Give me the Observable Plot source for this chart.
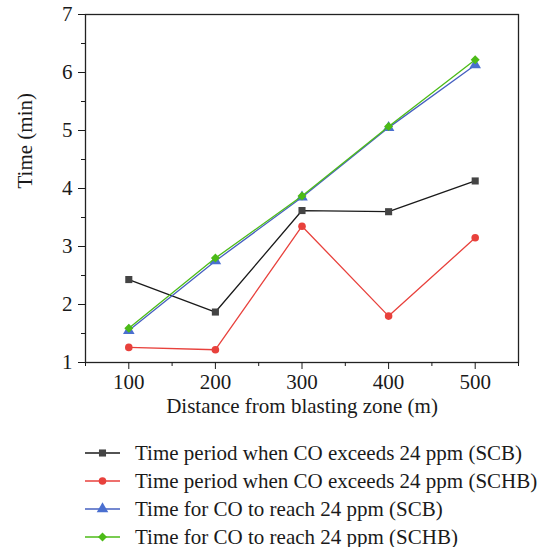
<!DOCTYPE html>
<html><head><meta charset="utf-8">
<script src="https://cdn.jsdelivr.net/npm/d3@7"></script>
<script src="https://cdn.jsdelivr.net/npm/@observablehq/plot@0.6"></script>
<style>
body{margin:0;background:#fff;font-family:"Liberation Serif",serif;}
#legend{margin-top:9px;margin-left:85px;}
.row{display:flex;align-items:center;height:28px;font-size:21px;color:#1a1a1a;}
.row svg{margin-right:15px;}
</style>
</head><body><div id="chart"></div><div id="legend"></div>
<script>
const distances = [100, 200, 300, 400, 500];
const seriesNames = [
  "Time period when CO exceeds 24 ppm (SCB)",
  "Time period when CO exceeds 24 ppm (SCHB)",
  "Time for CO to reach 24 ppm (SCB)",
  "Time for CO to reach 24 ppm (SCHB)"
];
const exceedSCB  = [2.43, 1.87, 3.62, 3.60, 4.13];
const exceedSCHB = [1.26, 1.22, 3.35, 1.80, 3.15];
const reachSCB   = [1.55, 2.75, 3.85, 5.05, 6.13];
const reachSCHB  = [1.59, 2.80, 3.87, 5.07, 6.22];
const xTicks = [100, 200, 300, 400, 500];
const xMinor = [50, 150, 250, 350, 450, 550];
const yTicks = [1, 2, 3, 4, 5, 6, 7];
const yMinor = [1.5, 2.5, 3.5, 4.5, 5.5, 6.5];

const lineColors = ["#1a1a1a", "#e8413c", "#4660c0", "#4cbb17"];
const fillColors = ["#444444", "#e8413c", "#4a6fd0", "#4cbb17"];
const symbols = ["square", "circle", "triangle", "square"];
const rotations = [0, 0, 0, 45];
const radii = [4.0, 3.8, 4.3, 3.6];

const allSeries = [exceedSCB, exceedSCHB, reachSCB, reachSCHB];
const rows = allSeries.map((vals, i) => distances.map((d, j) => ({x: d, y: vals[j], s: i})));

const marks = [
  Plot.frame({stroke: "#222", strokeWidth: 1.3}),
  Plot.axisX({ticks: xTicks, tickSize: 7, tickPadding: 5, label: null, tickFormat: d => String(d)}),
  Plot.axisX({ticks: xMinor, tickSize: 4, text: null, label: null}),
  Plot.axisY({ticks: yTicks, tickSize: 7, tickPadding: 6, label: null, tickFormat: d => String(d)}),
  Plot.axisY({ticks: yMinor, tickSize: 4, text: null, label: null}),
  Plot.text(["Distance from blasting zone (m)"], {frameAnchor: "bottom", dy: 50, text: d => d, fontSize: 21, fill: "#1a1a1a"}),
  Plot.text(["Time (min)"], {frameAnchor: "left", dx: -60, rotate: -90, text: d => d, fontSize: 21, fill: "#1a1a1a"})
];
rows.forEach((r, i) => {
  marks.push(Plot.line(r, {x: "x", y: "y", stroke: lineColors[i], strokeWidth: 1.3}));
  marks.push(Plot.dot(r, {x: "x", y: "y", symbol: symbols[i], fill: fillColors[i], r: radii[i], rotate: rotations[i]}));
});

const chart = Plot.plot({
  width: 548,
  height: 430,
  marginLeft: 85,
  marginRight: 30,
  marginTop: 14,
  marginBottom: 68,
  style: {fontFamily: "Liberation Serif, serif", fontSize: "21px", color: "#1a1a1a", background: "#fff"},
  x: {domain: [50, 550]},
  y: {domain: [1, 7]},
  marks
});
document.getElementById("chart").appendChild(chart);

const legend = document.getElementById("legend");
seriesNames.forEach((name, i) => {
  const row = document.createElement("div");
  row.className = "row";
  const ns = "http://www.w3.org/2000/svg";
  const sw = document.createElementNS(ns, "svg");
  sw.setAttribute("width", 35); sw.setAttribute("height", 14);
  const ln = document.createElementNS(ns, "line");
  ln.setAttribute("x1", 0); ln.setAttribute("x2", 35); ln.setAttribute("y1", 7); ln.setAttribute("y2", 7);
  ln.setAttribute("stroke", lineColors[i]); ln.setAttribute("stroke-width", 1.3);
  sw.appendChild(ln);
  const sym = {square: d3.symbolSquare, circle: d3.symbolCircle, triangle: d3.symbolTriangle}[symbols[i]];
  const p = document.createElementNS(ns, "path");
  p.setAttribute("d", d3.symbol(sym, Math.PI * radii[i] * radii[i])());
  p.setAttribute("transform", `translate(17.5,7) rotate(${rotations[i]})`);
  p.setAttribute("fill", fillColors[i]);
  sw.appendChild(p);
  row.appendChild(sw);
  const t = document.createElement("span");
  t.textContent = name;
  row.appendChild(t);
  legend.appendChild(row);
});
</script>
</body></html>
